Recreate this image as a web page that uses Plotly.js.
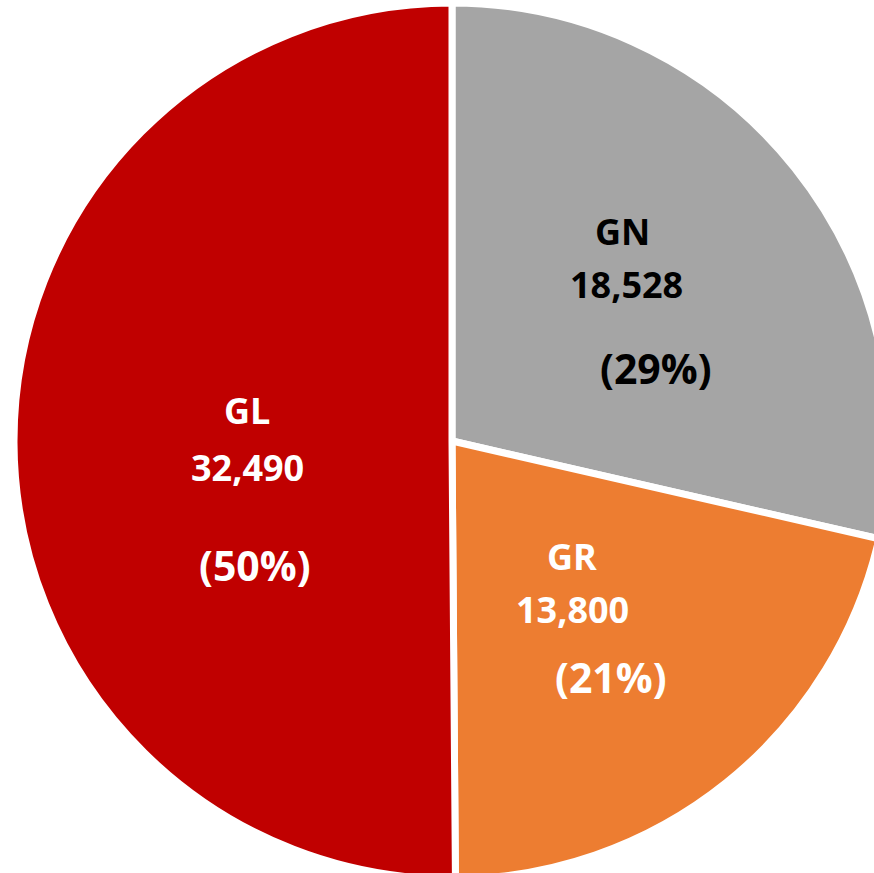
<!DOCTYPE html>
<html>
<head>
<meta charset="utf-8">
<script src="https://cdn.plot.ly/plotly-3.0.1.min.js"></script>
<style>
  html, body { margin: 0; padding: 0; background: #ffffff; width: 874px; height: 873px; overflow: hidden; position: relative; }
  #chart { position: absolute; left: 14px; top: 3px; width: 876px; height: 876px; }
</style>
</head>
<body>
<div id="chart"></div>
<script>
// Data
const categories = ["GN", "GR", "GL"];
const values = [18528, 13800, 32490];
const colors = ["#A5A5A5", "#ED7D31", "#C00000"];
const textColors = ["#000000", "#ffffff", "#ffffff"];

const W = 876, H = 876, OX = 14, OY = 3;
function px(x) { return (x - OX) / W; }
function py(y) { return 1 - (y - OY) / H; }

const total = values.reduce((a, b) => a + b, 0);
const pctText = values.map(v => "(" + Math.round(v / total * 100) + "%)");
const valText = values.map(v => v.toLocaleString("en-US"));

// label placement (page pixels): [name x,y], [value x,y], [pct x,y]
const place = [
  [[622, 232], [626, 284], [656, 368]],
  [[572, 556], [572, 609], [611, 677]],
  [[247, 410], [247, 467], [255, 565]]
];

const baseFont = { family: "'Open Sans', Lato, sans-serif", weight: 700 };
const sizes = [36, 36, 41];
const annotations = [];
categories.forEach((c, i) => {
  const texts = [c, valText[i], pctText[i]];
  texts.forEach((t, j) => {
    annotations.push({
      text: t,
      x: px(place[i][j][0]), y: py(place[i][j][1]),
      xref: "paper", yref: "paper",
      xanchor: "center", yanchor: "middle",
      showarrow: false,
      font: Object.assign({}, baseFont, { size: sizes[j], color: textColors[i] })
    });
  });
});

const trace = {
  type: "pie",
  labels: categories,
  values: values,
  sort: false,
  direction: "clockwise",
  rotation: 0,
  textinfo: "none",
  hoverinfo: "label+value+percent",
  marker: { colors: colors, line: { color: "#ffffff", width: 7 } },
  domain: { x: [0, 1], y: [0, 1] }
};

const layout = {
  width: W, height: H,
  margin: { l: 0, r: 0, t: 0, b: 0, pad: 0 },
  paper_bgcolor: "rgba(0,0,0,0)",
  plot_bgcolor: "rgba(0,0,0,0)",
  showlegend: false,
  annotations: annotations
};

Plotly.newPlot("chart", [trace], layout, { displayModeBar: false, staticPlot: true });
</script>
</body>
</html>
